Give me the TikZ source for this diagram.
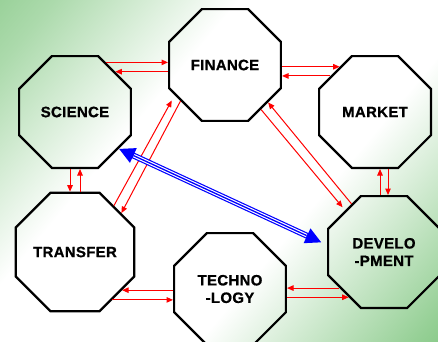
\documentclass[tikz,border=0pt]{standalone}
\usepackage{fontspec}
\setmainfont{Liberation Sans}
\newfontfamily\boxfont[LetterSpace=2, BoldFeatures={FakeBold=0.8}]{Liberation Sans}
\usetikzlibrary{shapes.geometric}
\usetikzlibrary{arrows.meta}

\definecolor{bgleft}{RGB}{104,186,104}
\definecolor{bgleftmid}{RGB}{172,218,172}
\definecolor{bgright}{RGB}{76,176,76}
\definecolor{bgrightmid}{RGB}{150,208,150}
\pgfdeclareverticalshading{panelbg}{100bp}{color(0bp)=(bgright); color(17bp)=(bgrightmid); color(38bp)=(white); color(62bp)=(white); color(80bp)=(bgleftmid); color(100bp)=(bgleft)}

\begin{document}
\begin{tikzpicture}[x=1pt, y=-1pt,
	octa/.style = {regular polygon, regular polygon sides=8, minimum size=121pt,
		inner sep=0pt, draw=black, line width=2.2pt, align=center,
		font=\boxfont\bfseries\fontsize{15}{17.5}\selectfont},
	redlink/.style = {draw=red, line width=1pt, -{Triangle[length=6.5pt,width=5.5pt]}},
	redback/.style = {draw=red, line width=1pt, {Triangle[length=6.5pt,width=5.5pt]}-},
	bluelink/.style = {draw=blue, line width=6pt,
		{Triangle[length=16pt,width=15pt]}-{Triangle[length=16pt,width=15pt]}, shorten >=6pt,
		postaction={draw=white, arrows=-, line width=3.6pt, shorten <=16.5pt, shorten >=22.5pt},
		postaction={draw=blue, arrows=-, line width=1.3pt, shorten <=16.5pt, shorten >=22.5pt}}]
	\useasboundingbox (0,0) rectangle (438,341);
	\fill[shading=panelbg, shading angle=50] (0,0) rectangle (438,341);

	\node[octa] (sci) at (75,112) {SCIENCE};
	\node[octa] (fin) at (225,65) {FINANCE};
	\node[octa] (mkt) at (375,112) {MARKET};
	\node[octa] (trf) at (75,252) {TRANSFER};
	\node[octa] (tec) at (230,289) {TECHNO\\-LOGY};
	\node[octa] (dev) at (384,252) {DEVELO\\-PMENT};

	\draw[redlink] (sci.58) -- (sci.58 -| fin.west);
	\draw[redback] (sci.45) -- (sci.45 -| fin.west);
	\draw[redlink] (mkt.128 -| fin.east) -- (mkt.128);
	\draw[redback] (mkt.141 -| fin.east) -- (mkt.141);

	\draw[redlink] ([xshift=-5pt]sci.south) -- ([xshift=-5pt]sci.south |- trf.north);
	\draw[redlink] ([xshift=5pt]trf.north) -- ([xshift=5pt]trf.north |- sci.south);
	\draw[redlink] ([xshift=-4pt]dev.north) -- ([xshift=-4pt]dev.north |- mkt.south);
	\draw[redlink] ([xshift=13pt]mkt.south) -- ([xshift=13pt]mkt.south |- dev.north);

	\draw[redlink, shorten >=6pt] (trf.50) -- (fin.211);
	\draw[redlink] (fin.219) -- (trf.40);
	\draw[redlink, shorten >=4pt] (fin.309) -- (dev.133);
	\draw[redlink] (dev.124) -- (fin.319);

	\draw[redback] (trf.321) -- (trf.321 -| tec.west);
	\draw[redlink] (trf.308) -- (trf.308 -| tec.west);
	\draw[redback] (dev.219 -| tec.east) -- (dev.219);
	\draw[redlink] (dev.232 -| tec.east) -- (dev.232);

	\draw[bluelink] (sci.320) -- (dev.173);
\end{tikzpicture}
\end{document}
